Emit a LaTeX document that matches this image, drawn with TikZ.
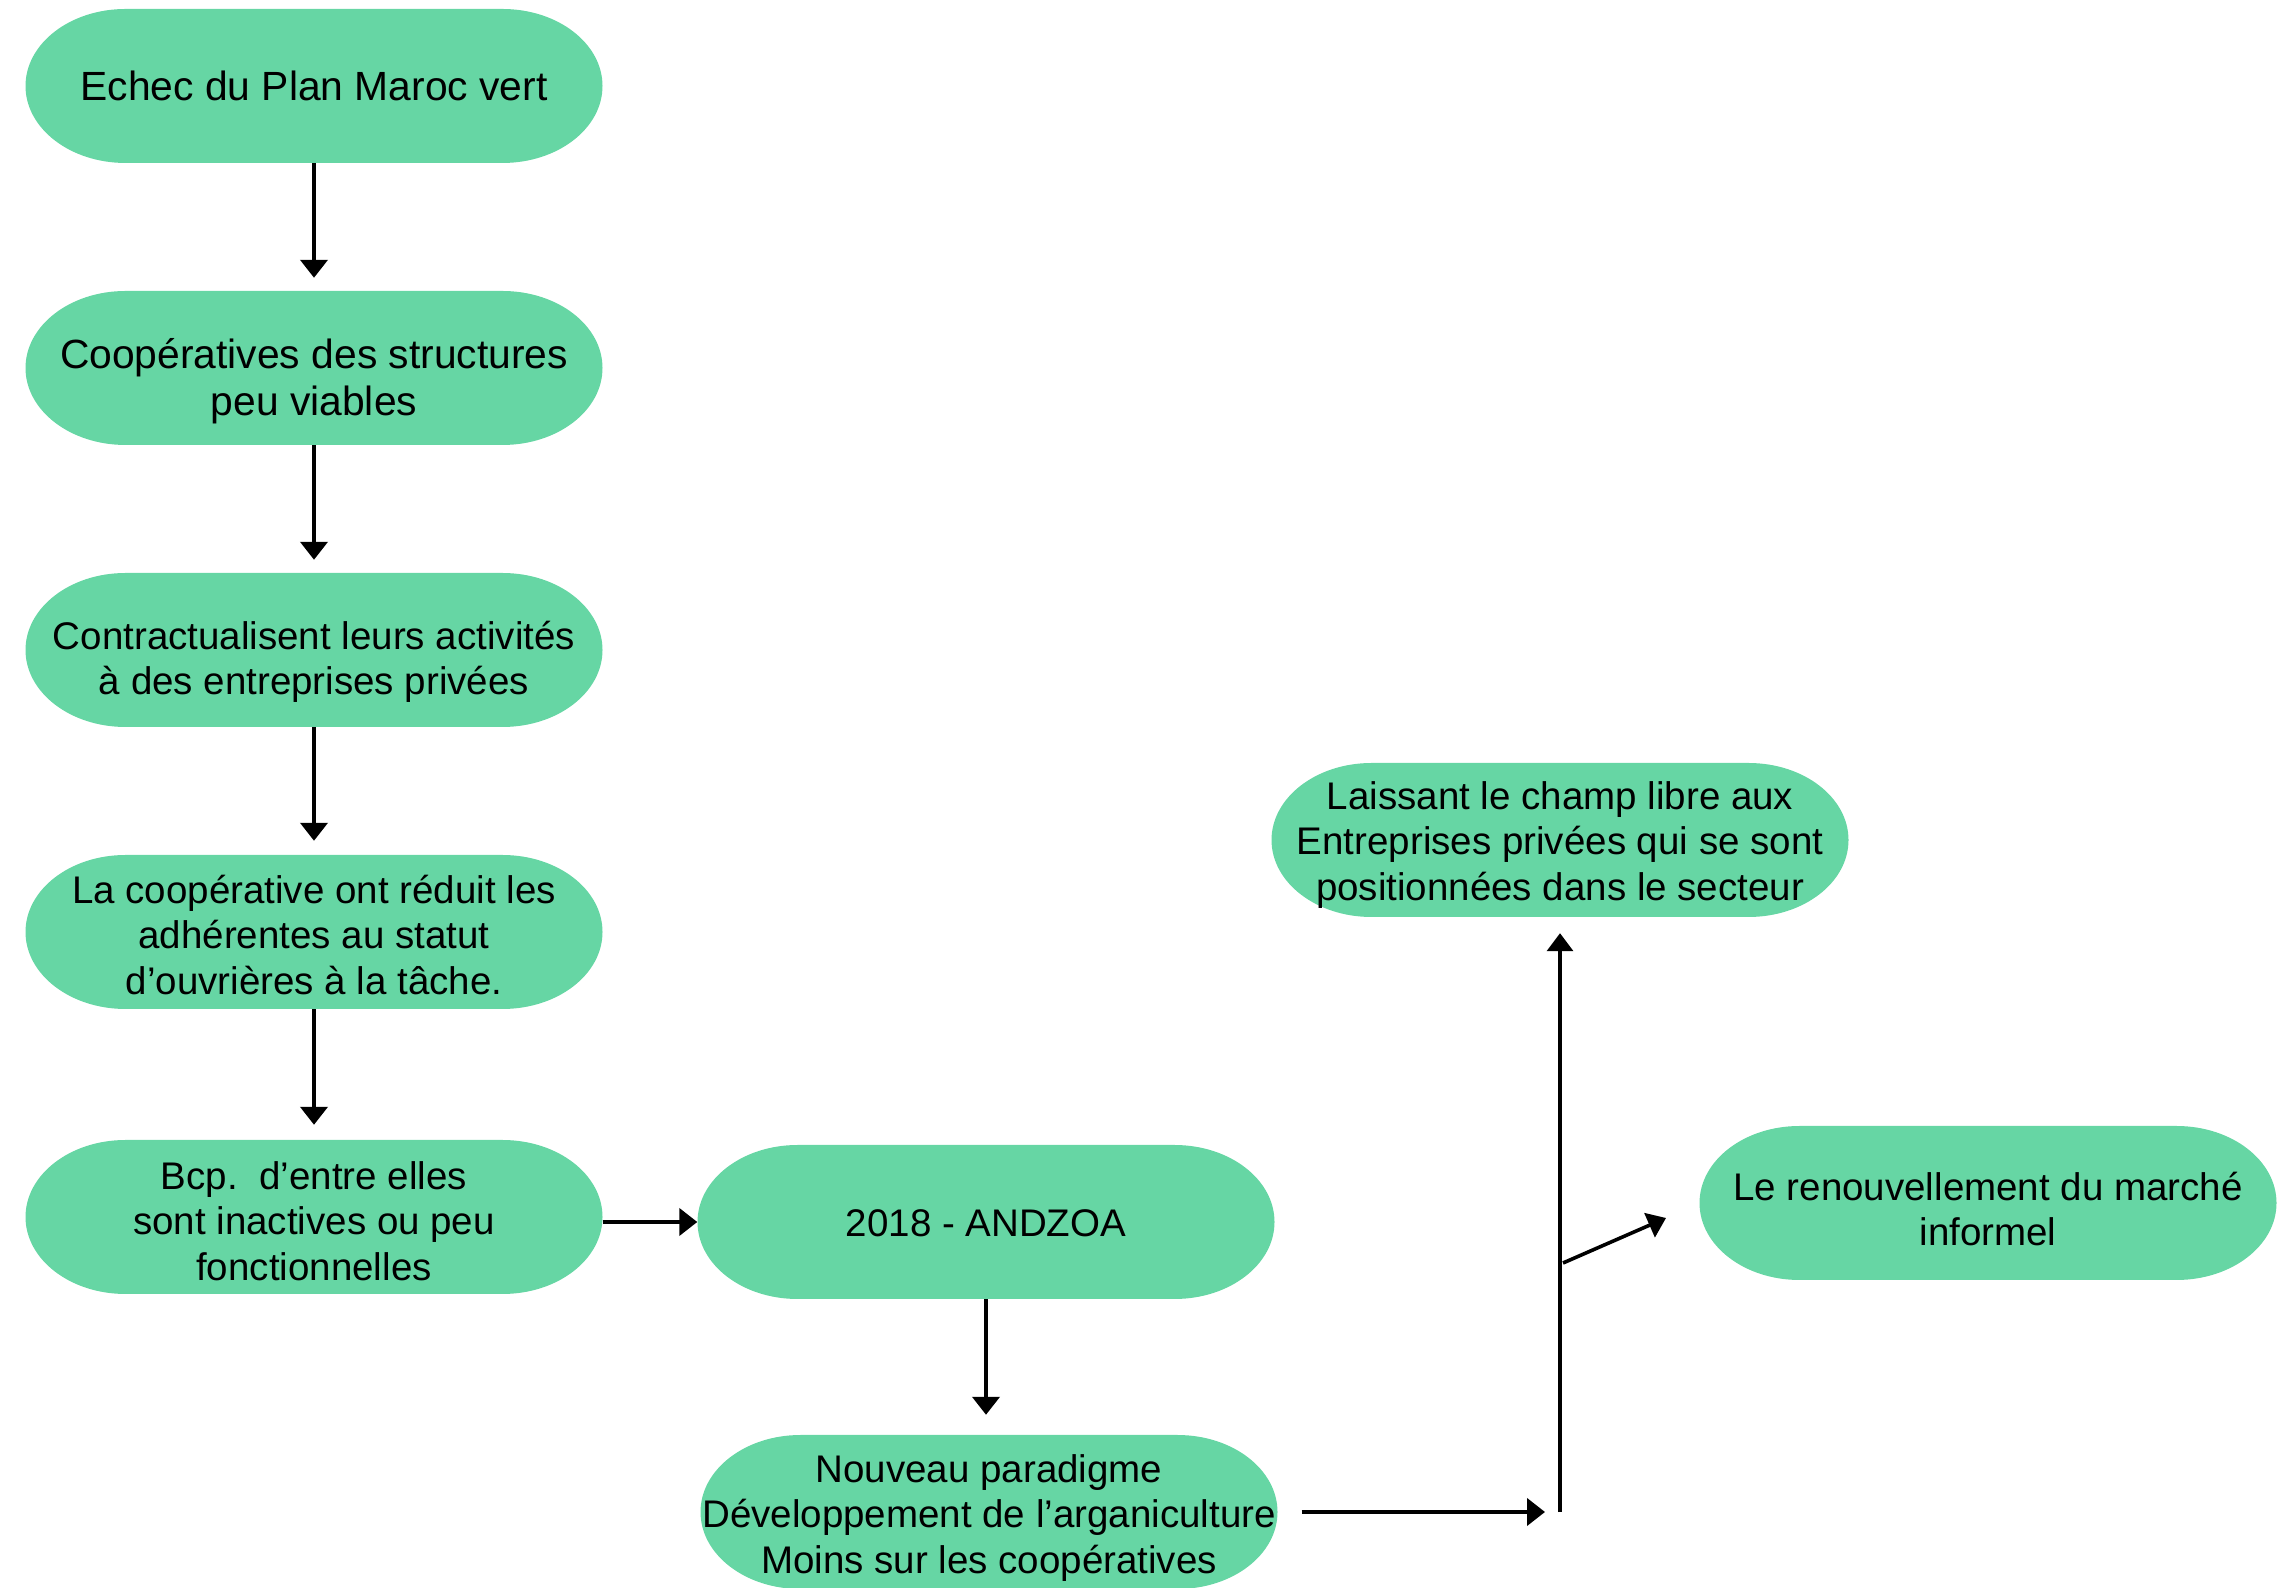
\documentclass[tikz,border=0pt]{standalone}
\usepackage{fontspec}
\setmainfont{Liberation Sans}
\usetikzlibrary{arrows.meta}
\definecolor{pillgreen}{HTML}{66D6A4}
\tikzset{
  pill/.style={minimum width=577pt, minimum height=154pt, inner sep=0pt,
    path picture={\fill[pillgreen]
      ([xshift=100pt]path picture bounding box.south west) --
      ([xshift=-100pt]path picture bounding box.south east)
      arc[start angle=-90,end angle=90,x radius=100pt,y radius=77pt] --
      ([xshift=100pt]path picture bounding box.north west)
      arc[start angle=90,end angle=270,x radius=100pt,y radius=77pt] -- cycle;}},
  txt/.style={inner sep=0pt, align=center, font=\fontsize{38.5}{45.5}\selectfont},
  bigtxt/.style={txt, font=\fontsize{40.8}{46.5}\selectfont},
  arr/.style={line width=4pt, -{Triangle[length=18pt,width=27pt]}},
  arrthin/.style={line width=3.6pt, -{Triangle[length=18pt,width=26pt]}}
}
\begin{document}
\begin{tikzpicture}[x=1pt,y=1pt]
\useasboundingbox (0,0) rectangle (2293,1587);
\node[pill] (n1) at (314,1501) {};
\node[pill] (n2) at (314,1219) {};
\node[pill] (n3) at (314,937) {};
\node[pill] (n4) at (314,655) {};
\node[pill] (n5) at (314,370) {};
\node[pill] (n6) at (986,365) {};
\node[pill] (n7) at (989,75) {};
\node[pill] (n8) at (1560,747) {};
\node[pill] (n9) at (1988,384) {};
\node[bigtxt] (t1) at (n1) {Echec du Plan Maroc vert};
\node[bigtxt] (t2) at ([yshift=-13pt]n2) {Coopératives des structures\\peu viables};
\node[txt] (t3) at ([yshift=-12pt]n3) {Contractualisent leurs activités\\à des entreprises privées};
\node[txt] (t4) at ([yshift=-3pt]n4) {La coopérative ont réduit les\\adhérentes au statut\\d’ouvrières à la tâche.};
\node[txt] (t5) at ([yshift=-4pt]n5) {Bcp.~~d’entre elles\\sont inactives ou peu\\fonctionnelles};
\node[txt] (t6) at ([yshift=-1pt]n6) {2018 - ANDZOA};
\node[txt] (t7) at ([yshift=-6pt]n7) {Nouveau paradigme\\Développement de l’arganiculture\\Moins sur les coopératives};
\node[txt] (t8) at ([yshift=-5pt]n8) {Laissant le champ libre aux\\Entreprises privées qui se sont\\positionnées dans le secteur};
\node[txt] (t9) at ([yshift=-6pt]n9) {Le renouvellement du marché\\informel};
\coordinate (j) at (1560,75);
\coordinate (d) at (1563,324);
\coordinate (e) at (1666,369);
\draw[arr, shorten >=13pt] (n1.south) -- (n2.north);
\draw[arr, shorten >=13pt] (n2.south) -- (n3.north);
\draw[arr, shorten >=14pt] (n3.south) -- (n4.north);
\draw[arr, shorten >=15pt] (n4.south) -- (n5.north);
\draw[arr] (n5.east |- n6.west) -- (n6.west);
\draw[arr, shorten >=20pt] (n6.south) -- (n6.south |- n7.north);
\draw[arr, shorten <=24pt, shorten >=15pt] (n7.east |- j) -- (j);
\draw[arrthin, shorten >=16pt] (j) -- (n8.south);
\draw[arrthin] (d) -- (e);
\end{tikzpicture}
\end{document}
